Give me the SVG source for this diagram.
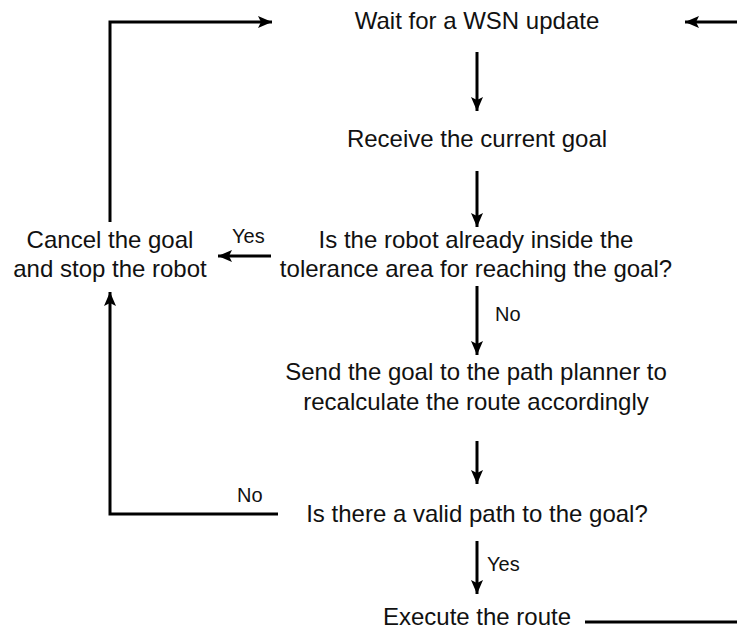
<svg xmlns="http://www.w3.org/2000/svg" width="737" height="631" viewBox="0 0 737 631">
  <defs>
    <marker id="arrow" viewBox="0 0 14 12" refX="14" refY="6" markerWidth="14" markerHeight="12" markerUnits="userSpaceOnUse" orient="auto">
      <path d="M0,0 L14,6 L0,12 L3,6 Z" fill="#000"/>
    </marker>
    <style>
      .lbl { font-family: "Liberation Sans", Arial, sans-serif; font-size: 24px; fill: #111; text-anchor: middle; }
      .small { font-family: "Liberation Sans", Arial, sans-serif; font-size: 20px; fill: #111; }
      .edge { fill: none; stroke: #000; stroke-width: 3; }
    </style>
  </defs>
  <rect width="737" height="631" fill="#fff"/>

  <g id="connectors">
    <path class="edge" d="M477,52 V111" marker-end="url(#arrow)"/>
    <path class="edge" d="M477,171 V227" marker-end="url(#arrow)"/>
    <path class="edge" d="M477,286 V355" marker-end="url(#arrow)"/>
    <path class="edge" d="M477,441 V484" marker-end="url(#arrow)"/>
    <path class="edge" d="M477,541 V594" marker-end="url(#arrow)"/>
    <path class="edge" d="M271,256 H218" marker-end="url(#arrow)"/>
    <path class="edge" d="M110,222 V22 H272" marker-end="url(#arrow)"/>
    <path class="edge" d="M278,514 H110 V292" marker-end="url(#arrow)"/>
    <path class="edge" d="M740,22 H685" marker-end="url(#arrow)"/>
    <path class="edge" d="M585,622 H740"/>
    <text class="small" x="232" y="243">Yes</text>
    <text class="small" x="495" y="321">No</text>
    <text class="small" x="237" y="502">No</text>
    <text class="small" x="487" y="571">Yes</text>
  </g>

  <g id="wait">
    <text class="lbl" x="477" y="29">Wait for a WSN update</text>
  </g>
  <g id="receive">
    <text class="lbl" x="477" y="147">Receive the current goal</text>
  </g>
  <g id="inside-check">
    <text class="lbl" x="476" y="248">Is the robot already inside the</text>
    <text class="lbl" x="476" y="277">tolerance area for reaching the goal?</text>
  </g>
  <g id="cancel">
    <text class="lbl" x="110" y="248">Cancel the goal</text>
    <text class="lbl" x="110" y="277">and stop the robot</text>
  </g>
  <g id="send">
    <text class="lbl" x="476" y="380">Send the goal to the path planner to</text>
    <text class="lbl" x="476" y="410">recalculate the route accordingly</text>
  </g>
  <g id="path-check">
    <text class="lbl" x="477" y="522">Is there a valid path to the goal?</text>
  </g>
  <g id="execute">
    <text class="lbl" x="477" y="625">Execute the route</text>
  </g>
</svg>
